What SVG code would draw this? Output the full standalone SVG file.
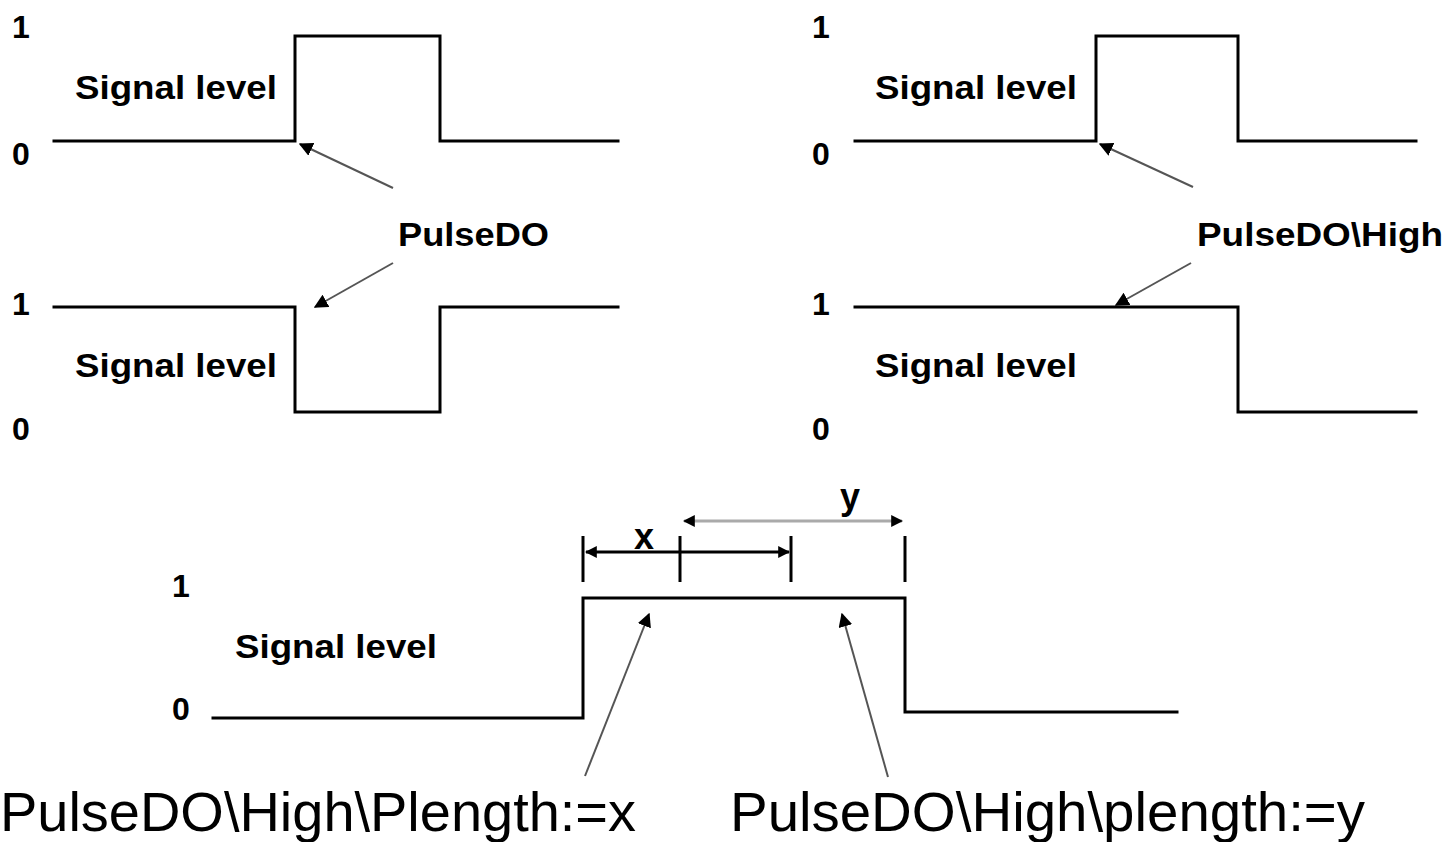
<svg xmlns="http://www.w3.org/2000/svg" width="1446" height="842" viewBox="0 0 1446 842">
<style>
.wave{fill:none;stroke:#000;stroke-width:3;stroke-linecap:square}
.tick{fill:none;stroke:#000;stroke-width:3}
.lbl{font-family:"Liberation Sans",Arial,sans-serif;font-weight:bold;fill:#000}
.num{font-family:"Liberation Sans",Arial,sans-serif;font-weight:bold;font-size:32px;fill:#000}
.big{font-family:"Liberation Sans",Arial,sans-serif;font-size:56px;fill:#000}
.ptr{stroke:#555;stroke-width:2;fill:none;marker-end:url(#ah)}
</style>
<defs>
<marker id="ah" viewBox="0 0 10 10" refX="9" refY="5" markerWidth="7" markerHeight="7" orient="auto" markerUnits="strokeWidth">
<path d="M0,0 L10,5 L0,10 z" fill="#000"/>
</marker>
<marker id="ahs" viewBox="0 0 10 10" refX="9" refY="5" markerWidth="4" markerHeight="4" orient="auto-start-reverse" markerUnits="strokeWidth">
<path d="M0,0 L10,5 L0,10 z" fill="#000"/>
</marker>
</defs>
<rect width="1446" height="842" fill="#fff"/>

<g id="panel-top-left">
<text class="num" x="12" y="38">1</text>
<text class="num" x="12" y="165">0</text>
<text class="lbl" x="75" y="99" font-size="33" textLength="202" lengthAdjust="spacingAndGlyphs">Signal level</text>
<polyline class="wave" points="54,141 295,141 295,36 440,36 440,141 618,141"/>
<text class="num" x="12" y="315">1</text>
<text class="num" x="12" y="440">0</text>
<text class="lbl" x="75" y="377" font-size="33" textLength="202" lengthAdjust="spacingAndGlyphs">Signal level</text>
<polyline class="wave" points="54,307 295,307 295,412 440,412 440,307 618,307"/>
<text class="lbl" x="398" y="246" font-size="33" textLength="151" lengthAdjust="spacingAndGlyphs">PulseDO</text>
</g>

<g id="panel-top-right">
<text class="num" x="812" y="38">1</text>
<text class="num" x="812" y="165">0</text>
<text class="lbl" x="875" y="99" font-size="33" textLength="202" lengthAdjust="spacingAndGlyphs">Signal level</text>
<polyline class="wave" points="855,141 1096,141 1096,36 1238,36 1238,141 1416,141"/>
<text class="num" x="812" y="315">1</text>
<text class="num" x="812" y="440">0</text>
<text class="lbl" x="875" y="377" font-size="33" textLength="202" lengthAdjust="spacingAndGlyphs">Signal level</text>
<polyline class="wave" points="855,307 1238,307 1238,412 1416,412"/>
<text class="lbl" x="1197" y="246" font-size="33" textLength="246" lengthAdjust="spacingAndGlyphs">PulseDO\High</text>
</g>

<g id="panel-bottom">
<text class="num" x="172" y="597">1</text>
<text class="num" x="172" y="720">0</text>
<text class="lbl" x="235" y="658" font-size="33" textLength="202" lengthAdjust="spacingAndGlyphs">Signal level</text>
<polyline class="wave" points="213,718 583,718 583,598 905,598 905,712 1177,712"/>
<line class="tick" x1="583" y1="536" x2="583" y2="582"/>
<line class="tick" x1="680" y1="536" x2="680" y2="582"/>
<line class="tick" x1="791" y1="536" x2="791" y2="582"/>
<line class="tick" x1="905" y1="536" x2="905" y2="582"/>
<text class="lbl" x="634" y="549" font-size="36">x</text>
<text class="lbl" x="840" y="509" font-size="36">y</text>
<text class="big" x="0" y="831" textLength="636" lengthAdjust="spacingAndGlyphs">PulseDO\High\Plength:=x</text>
<text class="big" x="730" y="831" textLength="635" lengthAdjust="spacingAndGlyphs">PulseDO\High\plength:=y</text>
</g>

<g id="connectors">
<line class="ptr" x1="393" y1="188" x2="300" y2="144"/>
<line class="ptr" x1="393" y1="263" x2="315" y2="307"/>
<line class="ptr" x1="1193" y1="187" x2="1100" y2="144"/>
<line class="ptr" x1="1191" y1="263" x2="1116" y2="305"/>
<line class="ptr" x1="585" y1="776" x2="649" y2="614"/>
<line class="ptr" x1="888" y1="777" x2="842" y2="614"/>
<line x1="586" y1="552" x2="789" y2="552" stroke="#000" stroke-width="3" marker-start="url(#ahs)" marker-end="url(#ahs)"/>
<line x1="684" y1="521" x2="902" y2="521" stroke="#aaa" stroke-width="3" marker-start="url(#ahs)" marker-end="url(#ahs)"/>
</g>
</svg>
